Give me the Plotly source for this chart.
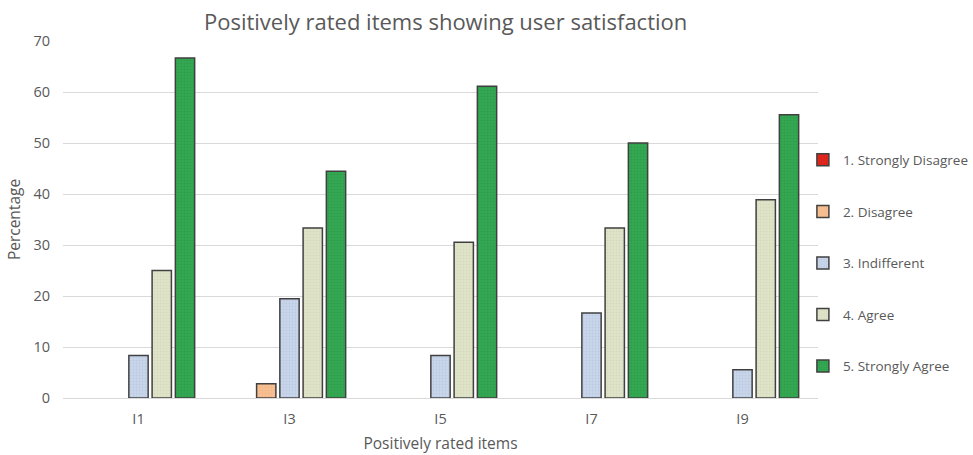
import plotly.graph_objects as go

# Survey response shares (%) per positively rated item
items = ["I1", "I3", "I5", "I7", "I9"]
strongly_disagree = [0, 0, 0, 0, 0]
disagree = [0, 2.78, 0, 0, 0]
indifferent = [8.33, 19.44, 8.33, 16.67, 5.56]
agree = [25.0, 33.33, 30.56, 33.33, 38.89]
strongly_agree = [66.67, 44.44, 61.11, 50.0, 55.56]

series_names = ["1. Strongly Disagree", "2. Disagree", "3. Indifferent",
                "4. Agree", "5. Strongly Agree"]
series_values = [strongly_disagree, disagree, indifferent, agree, strongly_agree]
fill_colors = ["#e3261c", "#f8c193", "#c9d5ea", "#dfe3c9", "#34a853"]
dot_colors = ["#c81a12", "#eaa877", "#aebfdc", "#cdd2b0", "#27903f"]

text_color = "#595959"
font_family = "Open Sans, Liberation Sans, sans-serif"

fig = go.Figure()
for name, vals, fc, dc in zip(series_names, series_values, fill_colors, dot_colors):
    # zero shares are left empty so no flat outline is drawn on the baseline
    shown = [v if v > 0 else None for v in vals]
    fig.add_trace(go.Bar(
        x=items, y=shown, name=name, legendgroup=name,
        marker=dict(
            color=fc,
            line=dict(color="#404040", width=1.5),
            pattern=dict(shape=".", fgcolor=dc, bgcolor=fc, size=3, solidity=0.35),
        ),
    ))

fig.update_layout(
    width=973, height=455,
    margin=dict(l=63, r=155, t=41, b=57, autoexpand=False),
    paper_bgcolor="white", plot_bgcolor="white",
    font=dict(family=font_family, color=text_color, size=14),
    title=dict(text="Positively rated items showing user satisfaction",
               x=0.458, xanchor="center", y=0.952, yanchor="middle",
               font=dict(size=22, color=text_color)),
    barmode="group", bargap=0.23, bargroupgap=0.17,
    legend=dict(x=0.98, xanchor="left", y=0.378, yanchor="middle",
                bgcolor="rgba(0,0,0,0)",
                traceorder="grouped", tracegroupgap=31,
                font=dict(size=13.5, color=text_color),
                itemwidth=30),
    showlegend=True,
)
fig.update_xaxes(title=dict(text="Positively rated items", font=dict(size=15.5), standoff=11),
                 showgrid=False, showline=False, ticks="", tickfont=dict(size=14.5),
                 ticklabelstandoff=10)
fig.update_yaxes(title=dict(text="Percentage", font=dict(size=15.5), standoff=8),
                 range=[0, 70], dtick=10, showgrid=True, gridcolor="#d9d9d9",
                 gridwidth=1.3, zeroline=True, zerolinecolor="#d9d9d9",
                 zerolinewidth=1.3, showline=False, ticks="", tickfont=dict(size=14.5),
                 ticklabelstandoff=12)

fig.write_html("out.html")
